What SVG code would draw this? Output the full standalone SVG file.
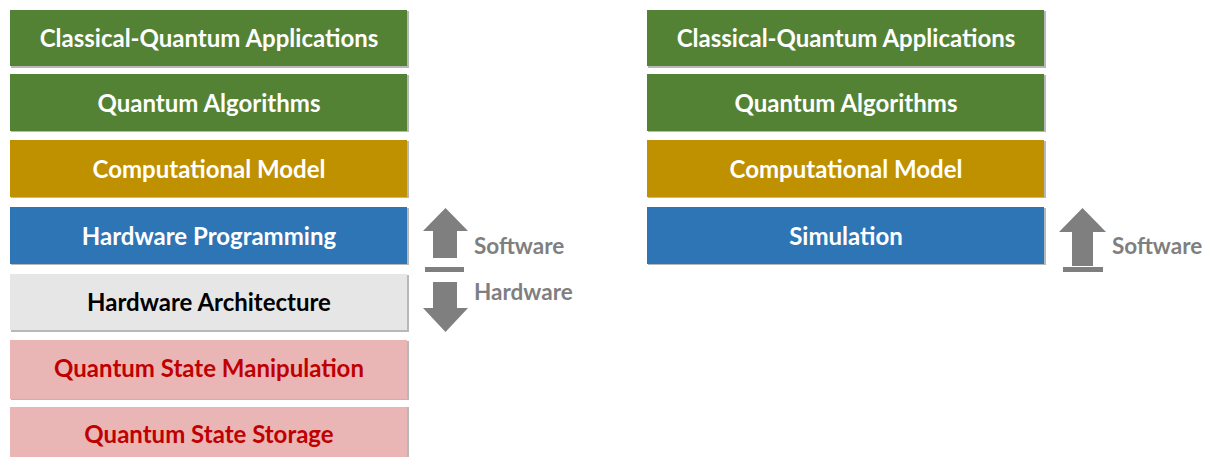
<svg xmlns="http://www.w3.org/2000/svg" width="1209" height="457" viewBox="0 0 1209 457">
<style>
.sh{fill:#b8b8b8}
.t{font-family:Lato,"Open Sans",sans-serif;font-weight:bold;font-size:24px;text-anchor:middle;dominant-baseline:central}
.w{fill:#ffffff}
.k{fill:#000000}
.r{fill:#c00000}
.lbl{font-family:Lato,"Open Sans",sans-serif;font-weight:bold;font-size:22.5px;fill:#7f7f7f}
.arr{fill:#7f7f7f}
</style>
<rect width="1209" height="457" fill="#ffffff"/>
<g id="left-apps"><rect class="sh" x="11" y="11" width="398" height="57"/><rect x="10" y="10" width="397" height="56" fill="#548235"/><text class="t w" x="209" y="37">Classical-Quantum Applications</text></g>
<g id="left-algo"><rect class="sh" x="11" y="75" width="398" height="57"/><rect x="10" y="74" width="397" height="57" fill="#548235"/><text class="t w" x="209" y="102">Quantum Algorithms</text></g>
<g id="left-model"><rect class="sh" x="11" y="141" width="398" height="57"/><rect x="10" y="140" width="397" height="57" fill="#bf9000"/><text class="t w" x="209" y="168">Computational Model</text></g>
<g id="left-hwprog"><rect class="sh" x="11" y="208" width="398" height="57"/><rect x="10" y="207" width="397" height="57" fill="#2e75b6"/><text class="t w" x="209" y="235">Hardware Programming</text></g>
<g id="left-hwarch"><rect class="sh" x="11" y="275" width="398" height="57"/><rect x="10" y="274" width="397" height="56" fill="#e7e6e6"/><text class="t k" x="209" y="301">Hardware Architecture</text></g>
<g id="left-manip"><rect class="sh" x="11" y="341" width="398" height="59"/><rect x="10" y="340" width="397" height="59" fill="#e9b5b5"/><text class="t r" x="209" y="367">Quantum State Manipulation</text></g>
<g id="left-storage"><rect class="sh" x="11" y="407" width="398" height="50"/><rect x="10" y="407" width="397" height="50" fill="#e9b5b5"/><text class="t r" x="209" y="433">Quantum State Storage</text></g>

<g id="right-apps"><rect class="sh" x="648" y="11" width="398" height="57"/><rect x="647" y="10" width="397" height="56" fill="#548235"/><text class="t w" x="846" y="37">Classical-Quantum Applications</text></g>
<g id="right-algo"><rect class="sh" x="648" y="75" width="398" height="57"/><rect x="647" y="74" width="397" height="57" fill="#548235"/><text class="t w" x="846" y="102">Quantum Algorithms</text></g>
<g id="right-model"><rect class="sh" x="648" y="141" width="398" height="57"/><rect x="647" y="140" width="397" height="57" fill="#bf9000"/><text class="t w" x="846" y="168">Computational Model</text></g>
<g id="right-sim"><rect class="sh" x="648" y="208" width="398" height="57"/><rect x="647" y="207" width="397" height="57" fill="#2e75b6"/><text class="t w" x="846" y="235">Simulation</text></g>

<g id="connectors">
<polygon class="arr" points="445.5,208 468,231 457,231 457,258 433,258 433,231 423,231"/>
<rect class="arr" x="425" y="267" width="39" height="5"/>
<polygon class="arr" points="433,282 457,282 457,308 468,308 445.5,332 423,308 433,308"/>
<text class="lbl" x="474" y="254">Software</text>
<text class="lbl" x="474" y="300">Hardware</text>
<polygon class="arr" points="1082.5,208 1106,232 1093,232 1093,266 1072,266 1072,232 1059,232"/>
<rect class="arr" x="1063" y="267" width="40" height="5"/>
<text class="lbl" x="1112" y="254">Software</text>
</g>
</svg>
